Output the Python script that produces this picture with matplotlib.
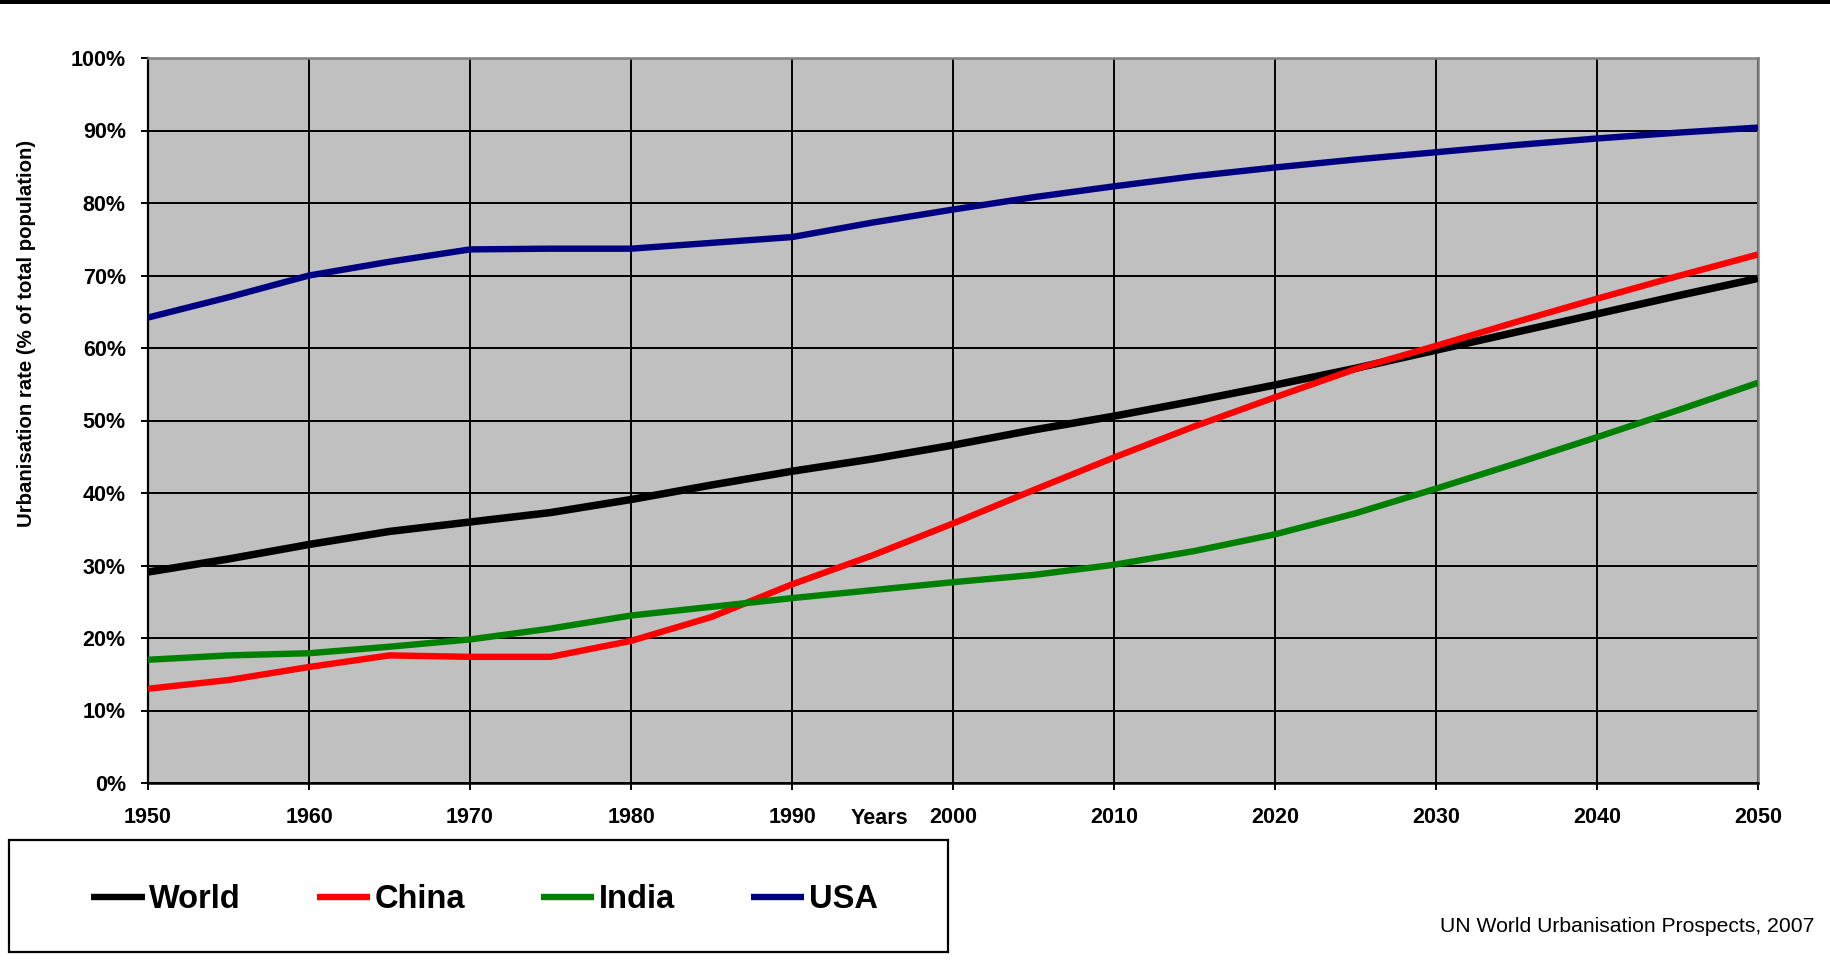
import matplotlib.pyplot as plt
from matplotlib.patches import Rectangle
from matplotlib.ticker import FuncFormatter

plt.rcParams["font.family"] = ["Liberation Sans", "DejaVu Sans"]

# UN World Urbanisation Prospects 2007, % urban, every 5 years
years = [1950, 1955, 1960, 1965, 1970, 1975, 1980, 1985, 1990, 1995, 2000,
         2005, 2010, 2015, 2020, 2025, 2030, 2035, 2040, 2045, 2050]
world = [29.1, 30.9, 32.9, 34.7, 36.0, 37.3, 39.1, 41.1, 43.0, 44.7, 46.6,
         48.7, 50.6, 52.7, 54.9, 57.2, 59.7, 62.2, 64.7, 67.2, 69.6]
china = [13.0, 14.2, 16.0, 17.6, 17.4, 17.4, 19.6, 22.9, 27.4, 31.4, 35.8,
         40.4, 44.9, 49.2, 53.2, 57.1, 60.3, 63.6, 66.8, 69.9, 72.9]
india = [17.0, 17.6, 17.9, 18.8, 19.8, 21.3, 23.1, 24.3, 25.5, 26.6, 27.7,
         28.7, 30.1, 32.0, 34.3, 37.2, 40.6, 44.1, 47.7, 51.4, 55.2]
usa = [64.2, 67.0, 70.0, 71.9, 73.6, 73.7, 73.7, 74.5, 75.3, 77.3, 79.1,
       80.8, 82.3, 83.7, 84.9, 86.0, 87.0, 88.0, 88.9, 89.7, 90.4]

series = [("World", world, "black", 5.4),
          ("China", china, "#ff0000", 4.6),
          ("India", india, "#008000", 4.6),
          ("USA", usa, "#000080", 4.6)]

W, H = 1831, 965
fig = plt.figure(figsize=(W / 100, H / 100), dpi=100)
ax = fig.add_axes([148 / W, 1 - 783 / H, (1758 - 148) / W, (783 - 58) / H])
ax.set_facecolor("#c0c0c0")

handles = []
for name, vals, col, lw in series:
    (h,) = ax.plot(years, [v / 100 for v in vals], color=col, lw=lw,
                   label=name, solid_joinstyle="round", solid_capstyle="butt",
                   zorder=3)
    handles.append(h)

ax.set_xlim(1950, 2050)
ax.set_ylim(0, 1)
ax.set_xticks(range(1950, 2051, 10))
ax.set_yticks([i / 10 for i in range(11)])
ax.yaxis.set_major_formatter(FuncFormatter(lambda v, p: f"{v * 100:.0f}%"))
ax.grid(True, color="black", lw=1.4, zorder=1)
ax.set_axisbelow(True)

ax.tick_params(axis="both", direction="out", length=5, width=1.4,
               labelsize=15.5, color="black")
ax.tick_params(axis="x", pad=12)
ax.tick_params(axis="y", pad=11)
for lab in ax.get_xticklabels() + ax.get_yticklabels():
    lab.set_fontweight("bold")

ax.spines["left"].set_color("black")
ax.spines["bottom"].set_color("black")
ax.spines["left"].set_linewidth(1.6)
ax.spines["bottom"].set_linewidth(1.8)
ax.spines["top"].set_color("#808080")
ax.spines["right"].set_color("#808080")
ax.spines["top"].set_linewidth(1.8)
ax.spines["right"].set_linewidth(1.8)

fig.text(879 / W, 1 - 818 / H, "Years", ha="center", va="center",
         fontsize=15.5, fontweight="bold")
fig.text(27 / W, 1 - 333 / H, "Urbanisation rate (% of total population)",
         rotation=90, ha="center", va="center", fontsize=14.7, fontweight="bold")
fig.text(1815 / W, 1 - 927 / H, "UN World Urbanisation Prospects, 2007",
         ha="right", va="center", fontsize=15.2)

# top black rule
fig.patches.append(Rectangle((0, 1 - 3.5 / H), 1, 3.5 / H, transform=fig.transFigure,
                             facecolor="black", edgecolor="none"))
# legend box
fig.patches.append(Rectangle((9 / W, 1 - 952 / H), (948 - 9) / W, (952 - 840) / H,
                             transform=fig.transFigure, facecolor="white",
                             edgecolor="black", lw=1.6, zorder=0))

leg = fig.legend(handles=handles, loc="center left",
                 bbox_to_anchor=(91 / W, 1 - 900 / H), ncol=4, frameon=False,
                 prop={"size": 23.5, "weight": "bold"}, handlelength=1.64,
                 handletextpad=0.14, columnspacing=2.32, borderpad=0,
                 borderaxespad=0)
for lh in leg.get_lines():
    lh.set_linewidth(4.6)

fig.savefig("out.png", dpi=100)
